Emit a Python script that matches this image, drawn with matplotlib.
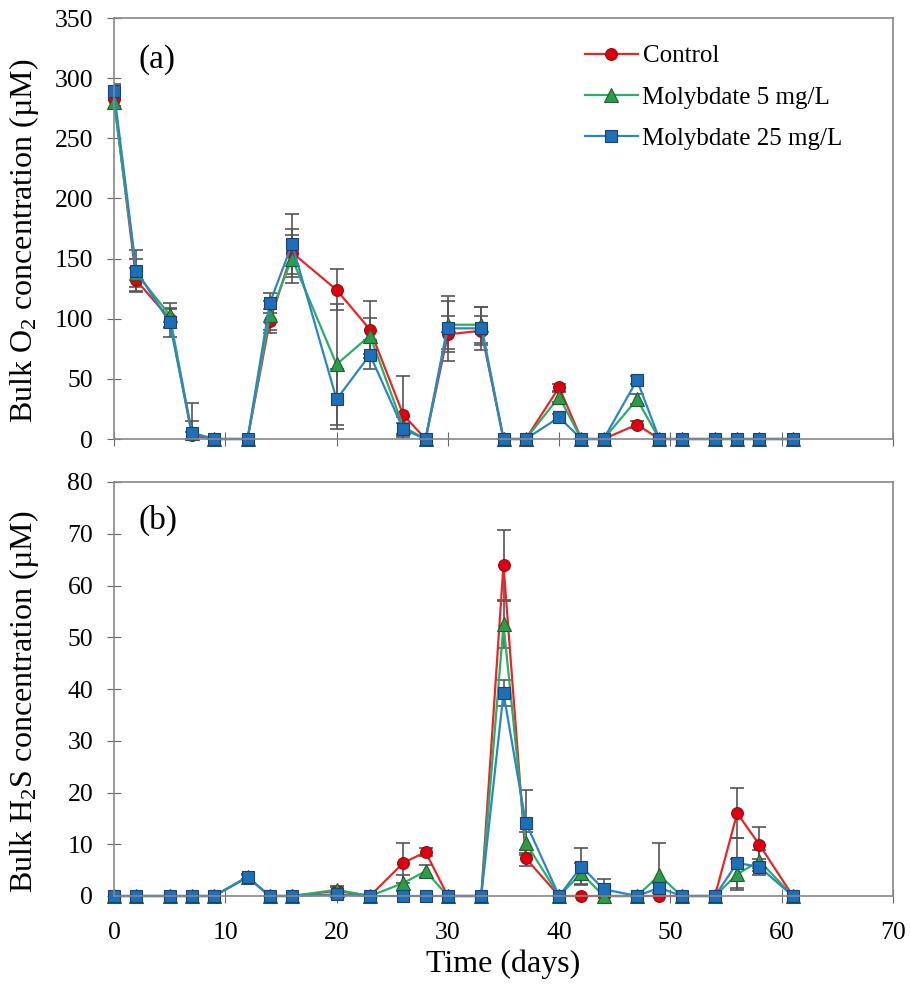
import numpy as np
import matplotlib.pyplot as plt

plt.rcParams['font.family'] = ['Liberation Serif', 'DejaVu Serif']
plt.rcParams['mathtext.fontset'] = 'custom'
plt.rcParams['mathtext.rm'] = 'Liberation Serif'
plt.rcParams['mathtext.it'] = 'Liberation Serif:italic'

days = [0, 2, 5, 7, 9, 12, 14, 16, 20, 23, 26, 28, 30, 33, 35, 37, 40, 42, 44, 47, 49, 51, 54, 56, 58, 61]
labels = ['Control', 'Molybdate 5 mg/L', 'Molybdate 25 mg/L']

# bulk O2 (uM)
o2_control = [283, 132, 100, 3, 0, 0, 98, 155, 124, 91, 20, 0, 87, 90, 0, 0, 43, 0, 0, 12, 0, 0, 0, 0, 0, 0]
o2_mo5 = [280, 138, 103, 5, 0, 0, 103, 150, 62, 86, 10, 0, 95, 95, 0, 0, 35, 0, 0, 33, 0, 0, 0, 0, 0, 0]
o2_mo25 = [289, 140, 97, 5, 0, 0, 113, 162, 33, 70, 8, 0, 92, 92, 0, 0, 18, 0, 0, 49, 0, 0, 0, 0, 0, 0]
o2_err_control = [6, 10, 8, 3, 0, 0, 10, 20, 17, 24, 32, 0, 15, 12, 0, 0, 3, 0, 0, 3, 0, 0, 0, 0, 0, 0]
o2_err_mo5 = [5, 12, 10, 25, 0, 0, 12, 20, 50, 15, 8, 0, 20, 15, 0, 0, 4, 0, 0, 4, 0, 0, 0, 0, 0, 0]
o2_err_mo25 = [6, 17, 12, 10, 0, 0, 8, 25, 25, 12, 5, 0, 27, 18, 0, 0, 3, 0, 0, 3, 0, 0, 0, 0, 0, 0]

# bulk H2S (uM)
h2s_control = [0, 0, 0, 0, 0, 3.7, 0, 0, 1.0, 0, 6.4, 8.5, 0, 0, 64, 7.3, 0, 0, 0, 0, 0, 0, 0, 16, 9.9, 0]
h2s_mo5 = [0, 0, 0, 0, 0, 3.7, 0, 0, 1.2, 0, 2.5, 4.8, 0, 0, 52.5, 10.3, 0, 4.4, 0, 0, 4.0, 0, 0, 4.2, 6.8, 0]
h2s_mo25 = [0, 0, 0, 0, 0, 3.6, 0, 0, 0.3, 0, 0, 0, 0, 0, 39.2, 14.2, 0, 5.7, 1.3, 0, 1.6, 0, 0, 6.4, 5.6, 0]
h2s_err_control = [0, 0, 0, 0, 0, 0.5, 0, 0, 0.8, 0, 3.8, 0.8, 0, 0, 6.8, 1.5, 0, 0, 0, 0, 0, 0, 0, 4.8, 3.5, 0]
h2s_err_mo5 = [0, 0, 0, 0, 0, 0.5, 0, 0, 0.8, 0, 1.5, 1.2, 0, 0, 4.5, 2.0, 0, 2.0, 0, 0, 6.2, 0, 0, 3.0, 2.0, 0]
h2s_err_mo25 = [0, 0, 0, 0, 0, 0.5, 0, 0, 0.3, 0, 0, 0, 0, 0, 2.5, 6.3, 0, 3.5, 2.0, 0, 1.0, 0, 0, 4.8, 1.5, 0]

styles = [
    dict(color='#E8262A', marker='o', mfc='#E00010', mec='#8B1010'),
    dict(color='#2BAE66', marker='^', mfc='#2E9B48', mec='#1E5F30'),
    dict(color='#2E86C1', marker='s', mfc='#1C6FB8', mec='#1F3F6F'),
]

fig = plt.figure(figsize=(9.1, 9.9), dpi=100)
ax1 = fig.add_axes([114 / 910, 1 - 439 / 990, 779 / 910, 421 / 990])
ax2 = fig.add_axes([114 / 910, 1 - 896 / 990, 779 / 910, 414 / 990])

def draw(ax, series, errs):
    for vals, err, st, lab in zip(series, errs, styles, labels):
        ax.errorbar(days, vals, yerr=err, fmt='none', ecolor='#555555',
                    elinewidth=1.2, capsize=5, capthick=1.2, zorder=1)
        ax.plot(days, vals, color=st['color'], lw=1.6, marker=st['marker'],
                ms=9.5 if st['marker'] == '^' else 8.5, mfc=st['mfc'], mec=st['mec'],
                mew=0.8, label=lab, zorder=2, clip_on=False)
    ax.set_xlim(0, 70)
    ax.set_xticks(range(0, 71, 10))
    for sp in ax.spines.values():
        sp.set_color('#888888')
        sp.set_linewidth(1.2)
    ax.tick_params(direction='inout', length=10, color='#666666', labelsize=18.5)
    ax.tick_params(axis='y', pad=10)
    ax.tick_params(axis='x', pad=14)

draw(ax1, [o2_control, o2_mo5, o2_mo25], [o2_err_control, o2_err_mo5, o2_err_mo25])
draw(ax2, [h2s_control, h2s_mo5, h2s_mo25], [h2s_err_control, h2s_err_mo5, h2s_err_mo25])

ax1.set_ylim(0, 350)
ax1.set_yticks(range(0, 351, 50))
ax1.set_xticklabels([])
ax1.set_ylabel('Bulk O$_2$ concentration (µM)', fontsize=23)
ax1.yaxis.set_label_coords(-0.094, 0.47)
ax1.text(0.032, 0.9, '(a)', transform=ax1.transAxes, fontsize=24, va='center')
ax1.legend(loc='upper left', bbox_to_anchor=(585 / 910, 1 - 45 / 990),
           bbox_transform=fig.transFigure, frameon=False, borderpad=0, borderaxespad=0,
           fontsize=18, handlelength=2.1, handletextpad=0.2, labelspacing=0.75)

ax2.set_ylim(0, 80)
ax2.set_yticks(range(0, 81, 10))
ax2.set_ylabel('Bulk H$_2$S concentration (µM)', fontsize=23)
ax2.yaxis.set_label_coords(-0.094, 0.47)
ax2.set_xlabel('Time (days)', fontsize=23, labelpad=4)
ax2.text(0.032, 0.908, '(b)', transform=ax2.transAxes, fontsize=24, va='center')

fig.savefig('out.png', dpi=100)
